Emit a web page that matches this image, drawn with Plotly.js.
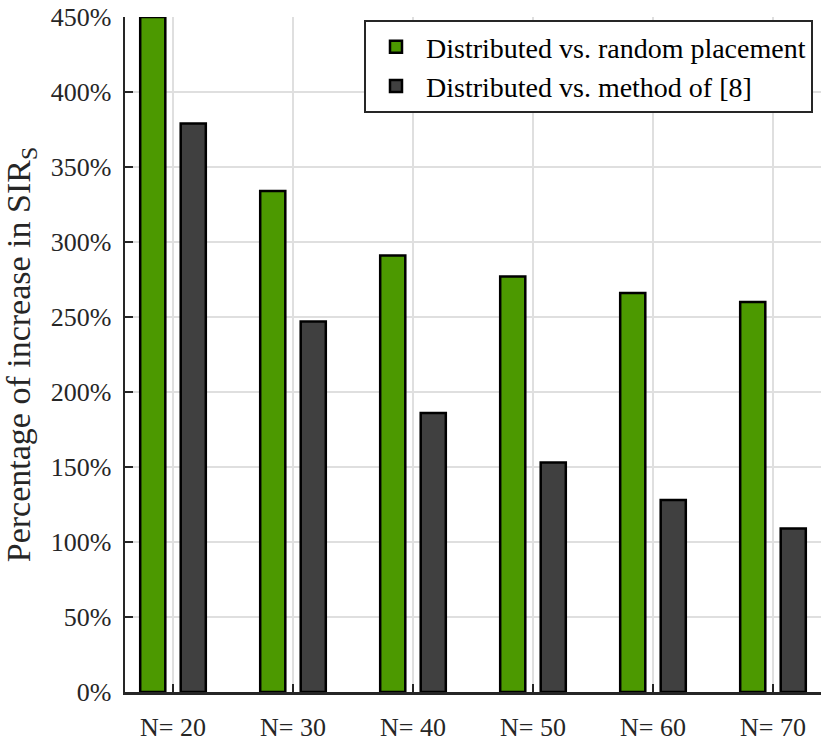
<!DOCTYPE html>
<html>
<head>
<meta charset="utf-8">
<script src="https://cdn.plot.ly/plotly-3.0.1.min.js"></script>
<style>
  html, body { margin: 0; padding: 0; background: #fff; }
  #myDiv { width: 830px; height: 748px; }
</style>
</head>
<body>
<div id="myDiv"></div>
<script>
//  ======== DATA ========
var categories = ['N= 20', 'N= 30', 'N= 40', 'N= 50', 'N= 60', 'N= 70'];
var seriesNames = ['Distributed vs. random placement', 'Distributed vs. method of [8]'];
var vsRandom = [450, 334, 291, 277, 266, 260];   // % increase
var vsMethod8 = [379, 247, 186, 153, 128, 109];  // % increase
var yTicks = [0, 50, 100, 150, 200, 250, 300, 350, 400, 450];
var yTickText = yTicks.map(function(v) { return v + '%'; });

//  ======== PLOT ========
var serif = 'Times New Roman, Liberation Serif, Tinos, DejaVu Serif';

var trace1 = {
  x: categories,
  y: vsRandom,
  name: seriesNames[0],
  type: 'bar',
  marker: {
    color: '#4c9900',
    line: { color: '#000', width: 2.5 }
  }
};

var trace2 = {
  x: categories,
  y: vsMethod8,
  name: seriesNames[1],
  type: 'bar',
  marker: {
    color: '#404040',
    line: { color: '#000', width: 2.5 }
  }
};

var data = [trace1, trace2];

var layout = {
  width: 830,
  height: 748,
  margin: { l: 125, r: 9, t: 17, b: 56, pad: 0 },
  barmode: 'group',
  bargap: 0.325,
  bargroupgap: 0.38,
  plot_bgcolor: '#fff',
  paper_bgcolor: '#fff',
  font: { family: serif, color: '#262626', size: 26 },
  xaxis: {
    type: 'category',
    range: [-0.4, 5.4],
    showgrid: true,
    gridcolor: '#dfdfdf',
    gridwidth: 2,
    showline: true,
    linecolor: '#262626',
    linewidth: 2.5,
    ticks: 'inside',
    ticklen: 8,
    tickwidth: 1.5,
    tickcolor: '#262626',
    ticklabelstandoff: 10,
    tickfont: { family: serif, size: 26, color: '#262626' },
    zeroline: false,
    fixedrange: true
  },
  yaxis: {
    range: [0, 450],
    tickvals: yTicks,
    ticktext: yTickText,
    showgrid: true,
    gridcolor: '#dfdfdf',
    gridwidth: 2,
    showline: true,
    linecolor: '#262626',
    linewidth: 2.5,
    ticks: 'inside',
    ticklen: 8,
    tickwidth: 2,
    tickcolor: '#262626',
    ticklabelstandoff: 6,
    tickfont: { family: serif, size: 26, color: '#262626' },
    zeroline: false,
    fixedrange: true,
    title: {
      text: 'Percentage of increase in SIR<sub>S</sub>',
      font: { family: serif, size: 34, color: '#262626' },
      standoff: 10
    }
  },
  showlegend: true,
  legend: {
    x: 0.9885,
    xanchor: 'right',
    y: 0.9956,
    yanchor: 'top',
    bgcolor: '#fff',
    bordercolor: '#262626',
    borderwidth: 2,
    font: { family: serif, size: 28, color: '#000' },
    itemwidth: 50,
    tracegroupgap: 0
  }
};

Plotly.newPlot('myDiv', data, layout, { staticPlot: true });
</script>
</body>
</html>
